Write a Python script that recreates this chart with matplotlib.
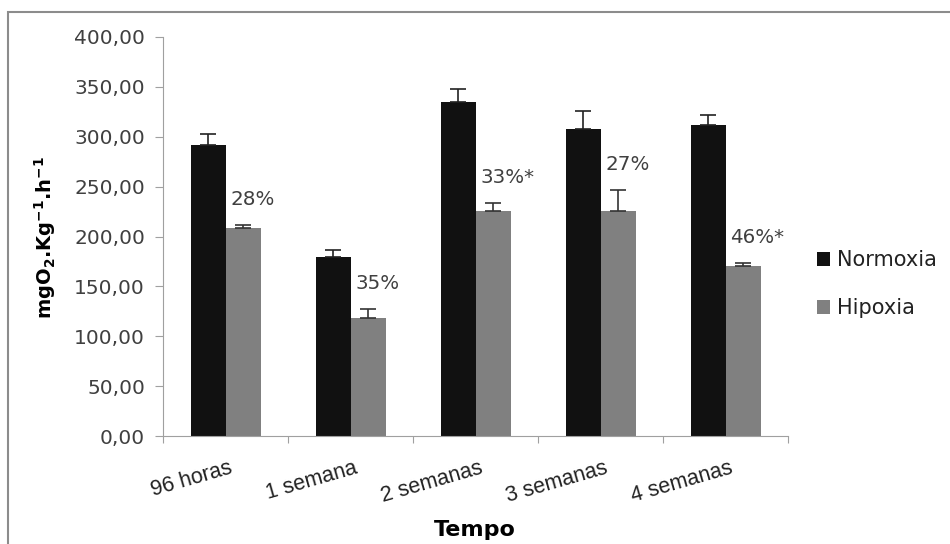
import numpy as np
import matplotlib
matplotlib.use("Agg")
import matplotlib.pyplot as plt
from matplotlib.patches import Rectangle

# data
categories = ["96 horas", "1 semana", "2 semanas", "3 semanas", "4 semanas"]
normoxia = [292, 179, 335, 308, 312]
normoxia_err = [11, 7, 13, 18, 10]
hipoxia = [209, 118, 226, 226, 170]
hipoxia_err = [3, 9, 8, 21, 3]
pct_labels = ["28%", "35%", "33%*", "27%", "46%*"]
yticks = [0, 50, 100, 150, 200, 250, 300, 350, 400]

fig = plt.figure(figsize=(9.5, 5.44), dpi=100)
ax = fig.add_axes([163 / 950, 1 - 436 / 544, 625 / 950, 399 / 544])

# gray frame around the whole chart (like the excel chart area)
fig.patches.append(Rectangle((8 / 950, -0.1), 1.1, 1 - 12 / 544 + 0.1, transform=fig.transFigure,
                             fill=False, edgecolor="#8c8c8c", linewidth=1.5))

x = np.arange(len(categories))
w = 0.28
ax.bar(x - w / 2, normoxia, w, color="#111111", label="Normoxia", zorder=2)
ax.bar(x + w / 2, hipoxia, w, color="#808080", label="Hipoxia", zorder=2)
# one sided error bars (upper only)
ax.errorbar(x - w / 2, normoxia, yerr=[np.zeros(len(x)), normoxia_err], fmt="none",
            ecolor="#222222", elinewidth=1.2, capsize=6, capthick=1.2, zorder=3)
ax.errorbar(x + w / 2, hipoxia, yerr=[np.zeros(len(x)), hipoxia_err], fmt="none",
            ecolor="#333333", elinewidth=1.2, capsize=6, capthick=1.2, zorder=3)

for i, lab in enumerate(pct_labels):
    ax.text(x[i] + 0.04, hipoxia[i] + hipoxia_err[i] + 16, lab, ha="left", va="bottom",
            fontsize=14.3, color="#404040")

ax.set_xlim(-0.5, len(categories) - 0.5)
ax.set_ylim(0, 400)
ax.set_yticks(yticks)
ax.set_yticklabels([f"{v:.2f}".replace(".", ",") for v in yticks], fontsize=14.5, color="#404040")
ax.tick_params(axis="y", direction="out", length=6, color="#a0a0a0", pad=7)

ax.set_xticks(np.arange(len(categories) + 1) - 0.5)
ax.set_xticklabels([])
ax.tick_params(axis="x", direction="out", length=5, color="#a0a0a0")
for i, cat in enumerate(categories):
    ax.text(x[i] + 0.03, -22, cat, rotation=16, ha="right", va="top", rotation_mode="anchor",
            fontsize=15.5, color="#222222", family="Liberation Sans")

for s in ["top", "right"]:
    ax.spines[s].set_visible(False)
ax.spines["left"].set_color("#a0a0a0")
ax.spines["bottom"].set_color("#a0a0a0")

fig.text(45 / 950, 1 - 238 / 544, r"mgO$_\mathbf{2}$.Kg$^\mathbf{-1}$.h$^\mathbf{-1}$", rotation=90,
         ha="center", va="center", fontsize=14, fontweight="bold")
fig.text(475 / 950, 1 - 530 / 544, "Tempo", ha="center", va="center", fontsize=16,
         fontweight="bold")

ax.legend(loc="center left", bbox_to_anchor=(1.017, 0.38), frameon=False, fontsize=15,
          handlelength=0.6, handleheight=0.6, handletextpad=0.35, labelspacing=1.35,
          labelcolor="#222222")

fig.savefig("out.png", dpi=100)
